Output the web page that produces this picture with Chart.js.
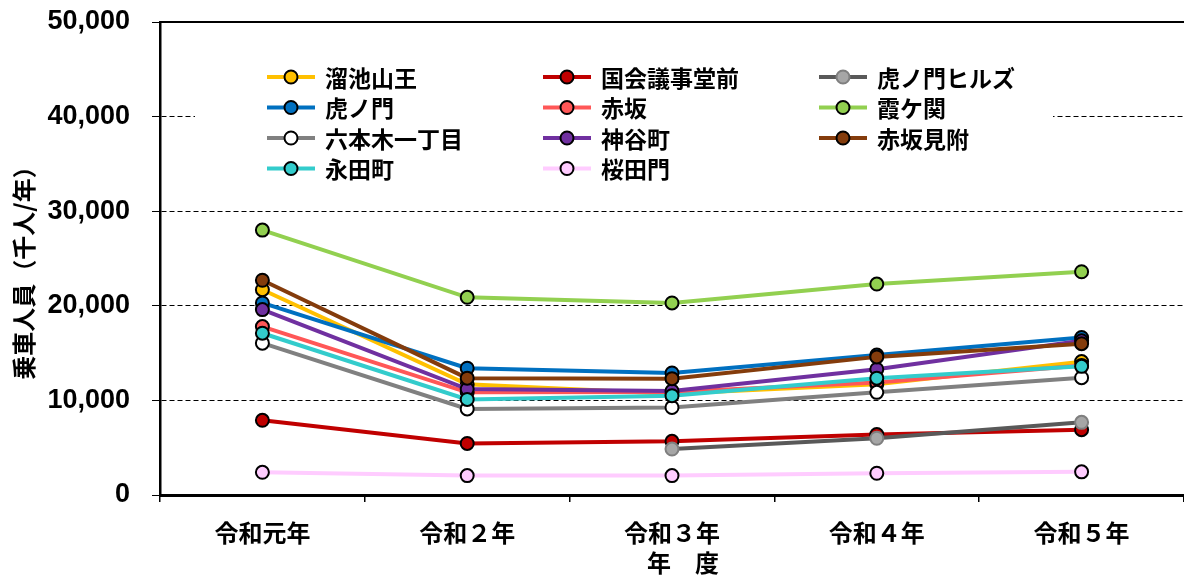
<!DOCTYPE html>
<html lang="ja">
<head>
<meta charset="utf-8">
<title>乗車人員の推移</title>
<script src="https://cdn.jsdelivr.net/npm/chart.js@4"></script>
<style>
  html, body { margin: 0; padding: 0; background: #fff; overflow: hidden; }
  #wrap { width: 1184px; height: 575px; }
  canvas { display: block; }
</style>
</head>
<body>
<div id="wrap"><canvas id="chart" width="1184" height="575"></canvas></div>
<script>
// 年度
const years = ['令和元年', '令和２年', '令和３年', '令和４年', '令和５年'];

// 駅別の乗車人員（千人/年）
const tameikeSanno   = [21700, 11700, 10700, 11700, 14100];
const kokkaiGijidomae = [7900, 5450, 5670, 6400, 6900];
const toranomonHills = [null, null, 4860, 6000, 7680];
const toranomon      = [20300, 13400, 12900, 14800, 16650];
const akasaka        = [17800, 10850, 10900, 11900, 13700];
const kasumigaseki   = [28000, 20900, 20300, 22300, 23600];
const roppongiItchome = [16050, 9100, 9260, 10850, 12400];
const kamiyacho      = [19600, 11200, 11000, 13300, 16300];
const akasakaMitsuke = [22700, 12350, 12300, 14600, 16000];
const nagatacho      = [17100, 10100, 10500, 12350, 13600];
const sakuradamon    = [2400, 2050, 2050, 2300, 2450];

const yTicks = [0, 10000, 20000, 30000, 40000, 50000];

const jpFont = '"Noto Sans CJK JP", "Noto Sans", sans-serif';

// name, values, line colour, marker fill, marker border
const series = [
  ['溜池山王', tameikeSanno, '#FFC000', '#FFC000', '#000'],
  ['国会議事堂前', kokkaiGijidomae, '#C00000', '#C00000', '#000'],
  ['虎ノ門ヒルズ', toranomonHills, '#595959', '#A6A6A6', '#7F7F7F'],
  ['虎ノ門', toranomon, '#0070C0', '#0070C0', '#000'],
  ['赤坂', akasaka, '#FF5757', '#FF5757', '#000'],
  ['霞ケ関', kasumigaseki, '#92D050', '#92D050', '#000'],
  ['六本木一丁目', roppongiItchome, '#808080', '#FFFFFF', '#000'],
  ['神谷町', kamiyacho, '#7030A0', '#7030A0', '#000'],
  ['赤坂見附', akasakaMitsuke, '#843C0C', '#843C0C', '#000'],
  ['永田町', nagatacho, '#33CCCC', '#33CCCC', '#000'],
  ['桜田門', sakuradamon, '#FFCCFF', '#FFCCFF', '#000']
];

const datasets = series.map((s, i) => ({
  label: s[0],
  data: s[1],
  borderColor: s[2],
  backgroundColor: s[3],
  pointBackgroundColor: s[3],
  pointBorderColor: s[4],
  pointBorderWidth: 2,
  pointRadius: 6.5,
  borderWidth: 4,
  tension: 0,
  clip: false,
  order: -i   // later series on top
}));

// 3列の凡例（白地でグリッド線を隠す）
const legendBox = {
  id: 'legendBox',
  beforeDatasetsDraw(chart) {
    const ctx = chart.ctx;
    ctx.save();
    ctx.fillStyle = '#fff';
    ctx.fillRect(195, 54, 858, 132);
    const colX = [267, 543, 819];
    const rowY = [77, 107.5, 138, 168.5];
    ctx.font = 'bold 23px ' + jpFont;
    ctx.textBaseline = 'middle';
    ctx.textAlign = 'left';
    chart.data.datasets.forEach((ds, i) => {
      const x = colX[i % 3];
      const y = rowY[Math.floor(i / 3)];
      ctx.strokeStyle = ds.borderColor;
      ctx.lineWidth = 4;
      ctx.beginPath();
      ctx.moveTo(x, y);
      ctx.lineTo(x + 48, y);
      ctx.stroke();
      ctx.beginPath();
      ctx.arc(x + 24, y, 6.5, 0, Math.PI * 2);
      ctx.fillStyle = ds.pointBackgroundColor;
      ctx.fill();
      ctx.lineWidth = 2;
      ctx.strokeStyle = ds.pointBorderColor;
      ctx.stroke();
      ctx.fillStyle = '#000';
      ctx.fillText(ds.label, x + 58, y + 1);
    });
    ctx.restore();
  }
};

// 軸タイトルと上端の線
const axisExtras = {
  id: 'axisExtras',
  afterDraw(chart) {
    const ctx = chart.ctx;
    const a = chart.chartArea;
    ctx.save();
    ctx.strokeStyle = '#000';
    ctx.lineWidth = 2;
    ctx.beginPath();
    ctx.moveTo(a.left, a.top);
    ctx.lineTo(a.right, a.top);
    ctx.stroke();

    ctx.fillStyle = '#000';
    ctx.font = 'bold 24px ' + jpFont;
    ctx.textAlign = 'center';
    ctx.textBaseline = 'middle';
    ctx.fillText('年　度', 683, 563);

    ctx.translate(24, 267);
    ctx.rotate(-Math.PI / 2);
    ctx.fillText('乗車人員（千人/年）', 0, 0);
    ctx.restore();
  }
};

// 目盛ラベル分の自動余白を消して描画領域を固定する
function noPadding(scale) {
  scale.paddingTop = 0;
  scale.paddingBottom = 0;
  scale.paddingLeft = 0;
  scale.paddingRight = 0;
}

new Chart(document.getElementById('chart'), {
  type: 'line',
  data: { labels: years, datasets: datasets },
  plugins: [legendBox, axisExtras],
  options: {
    responsive: false,
    animation: false,
    layout: { autoPadding: false, padding: { top: 22, right: 0, bottom: 0, left: 0 } },
    plugins: {
      legend: { display: false },
      tooltip: { enabled: false }
    },
    scales: {
      x: {
        offset: true,
        afterFit(scale) { scale.height = 80; noPadding(scale); },
        grid: {
          offset: true,
          drawOnChartArea: false,
          drawTicks: true,
          tickLength: 7,
          color: '#000',
          tickColor: '#000',
          lineWidth: 1.5
        },
        border: { display: true, color: '#000', width: 3 },
        ticks: {
          color: '#000',
          padding: 16,
          font: { family: jpFont, size: 24, weight: 'bold' }
        }
      },
      y: {
        min: 0,
        max: 50000,
        afterFit(scale) { scale.width = 160; noPadding(scale); },
        afterBuildTicks(scale) { scale.ticks = yTicks.map(v => ({ value: v })); },
        grid: {
          drawTicks: true,
          tickLength: 8,
          lineWidth: 1,
          color: c => (c.tick && (c.tick.value === 0 || c.tick.value === 50000)) ? 'rgba(0,0,0,0)' : '#000',
          tickColor: '#000',
          tickBorderDash: [1, 0]
        },
        border: { display: true, color: '#000', width: 2.5, dash: [5, 3] },
        ticks: {
          color: '#000',
          padding: 22,
          font: { family: '"Liberation Sans", Arial, sans-serif', size: 27, weight: 'bold' },
          callback: v => v.toLocaleString('en-US')
        }
      }
    }
  }
});
</script>
</body>
</html>
